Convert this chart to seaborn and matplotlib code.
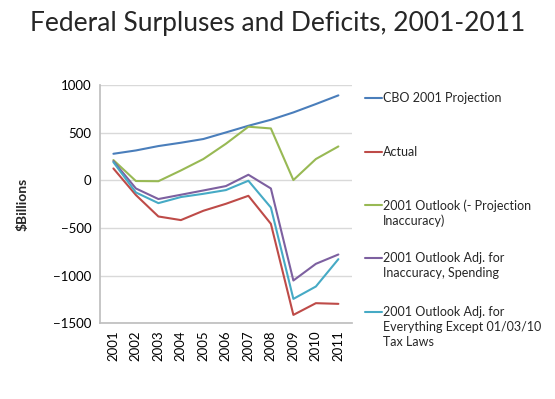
import numpy as np
import pandas as pd
import matplotlib
matplotlib.use("Agg")
import matplotlib.pyplot as plt
from matplotlib.lines import Line2D
import seaborn as sns

# Data ($ billions)
years = [2001, 2002, 2003, 2004, 2005, 2006, 2007, 2008, 2009, 2010, 2011]
cbo_projection = [278, 313, 359, 394, 433, 502, 572, 635, 712, 800, 891]
actual = [124, -155, -380, -418, -320, -247, -163, -457, -1413, -1290, -1297]
outlook_minus_inacc = [212, -8, -10, 103, 223, 383, 562, 544, 2, 223, 355]
outlook_adj_spending = [200, -86, -197, -152, -107, -61, 58, -86, -1052, -877, -779]
outlook_adj_everything = [190, -128, -240, -176, -142, -103, -5, -286, -1245, -1115, -828]

series_names = [
    "CBO 2001 Projection",
    "Actual",
    "2001 Outlook (- Projection\nInaccuracy)",
    "2001 Outlook Adj. for\nInaccuracy, Spending",
    "2001 Outlook Adj. for\nEverything Except 01/03/10\nTax Laws",
]
series_values = [cbo_projection, actual, outlook_minus_inacc,
                 outlook_adj_spending, outlook_adj_everything]
colors = ["#4A7EBB", "#BE4B48", "#98B954", "#7D60A0", "#46AAC5"]

df = pd.concat(
    [pd.DataFrame({"year": [str(y) for y in years], "value": vals, "series": name})
     for name, vals in zip(series_names, series_values)],
    ignore_index=True,
)

sns.set_theme(style="white")
plt.rcParams["font.family"] = ["Lato", "DejaVu Sans"]

fig = plt.figure(figsize=(5.55, 3.99), dpi=100)
ax = fig.add_axes([0.180, 0.190, 0.454, 0.597])

sns.lineplot(data=df, x="year", y="value", hue="series", palette=colors,
             sort=False, linewidth=1.5, legend=False, ax=ax)

ax.set_ylim(-1500, 1000)
ax.set_yticks([-1500, -1000, -500, 0, 500, 1000])
ax.set_xlim(-0.6, len(years) - 0.4)
ax.yaxis.grid(True, color="#D9D9D9", linewidth=1)
ax.set_axisbelow(True)
for side in ["top", "right"]:
    ax.spines[side].set_visible(False)
for side in ["left", "bottom"]:
    ax.spines[side].set_color("#BFBFBF")
ax.tick_params(axis="both", length=0, labelsize=9.5, colors="#000000", pad=6)
ax.tick_params(axis="x", labelrotation=90, pad=5)
ax.set_xlabel("")
ax.set_ylabel("$Billions", fontsize=10, fontweight="bold", labelpad=18)

fig.suptitle("Federal Surpluses and Deficits, 2001-2011", fontsize=19,
             y=0.972, va="top")

# Legend built by hand so the handle sits on the first line of each label
leg_y = [98, 152, 205, 258, 312]
for name, color, py in zip(series_names, colors, leg_y):
    fy = 1 - py / 399
    fig.add_artist(Line2D([365 / 555, 382 / 555], [fy, fy], color=color,
                          linewidth=1.5, transform=fig.transFigure))
    fig.text(383 / 555, fy + 6 / 399, name, fontsize=9, va="top", ha="left",
             linespacing=1.3)

fig.savefig("out.png", dpi=100)
